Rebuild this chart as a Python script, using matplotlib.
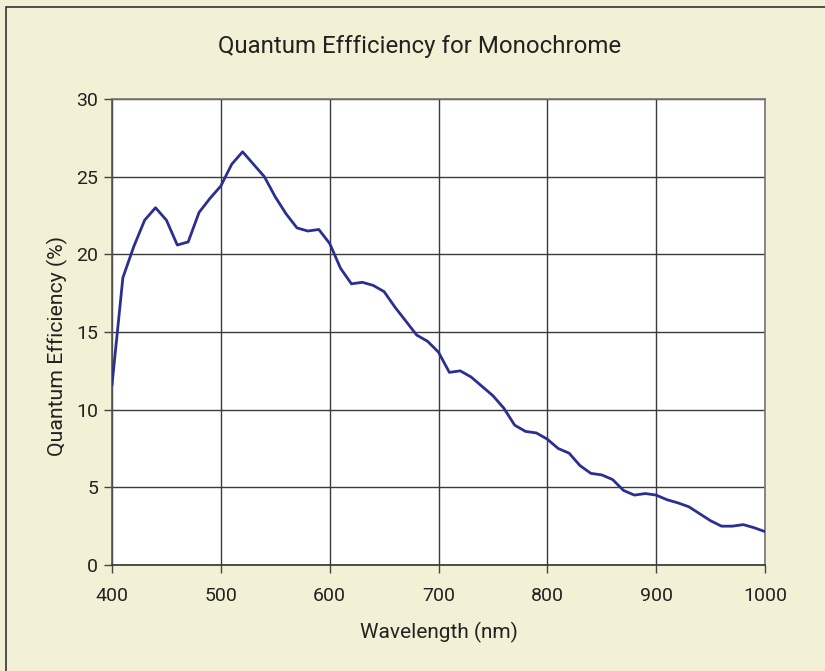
import matplotlib.pyplot as plt
from matplotlib.patches import Rectangle

# wavelength (nm) and quantum efficiency (%)
wavelength = list(range(400, 1001, 10))
qe = [11.6, 18.5, 20.5, 22.2, 23.0, 22.2, 20.6, 20.8, 22.7, 23.6,
      24.4, 25.8, 26.6, 25.8, 25.0, 23.7, 22.6, 21.7, 21.5, 21.6,
      20.7, 19.1, 18.1, 18.2, 18.0, 17.6, 16.6, 15.7, 14.8, 14.4,
      13.7, 12.4, 12.5, 12.1, 11.5, 10.9, 10.1, 9.0, 8.6, 8.5,
      8.1, 7.5, 7.2, 6.4, 5.9, 5.8, 5.5, 4.8, 4.5, 4.6,
      4.5, 4.2, 4.0, 3.75, 3.3, 2.85, 2.5, 2.5, 2.6, 2.4,
      2.15]
xticks = [400, 500, 600, 700, 800, 900, 1000]
yticks = [0, 5, 10, 15, 20, 25, 30]

plt.rcParams['font.family'] = ['Roboto', 'DejaVu Sans']
bg = '#F3F1D5'
txt = '#222222'

fig = plt.figure(figsize=(8.25, 6.71), dpi=100, facecolor=bg)
ax = fig.add_axes([112/825, 1-565/671, 653/825, 466/671])
ax.set_facecolor('white')

##外框
fig.patches.append(Rectangle((6/825, -0.1), 1.2, 1-7/671+0.1, transform=fig.transFigure,
                             fill=False, edgecolor='#333333', linewidth=1.2))

ax.plot(wavelength, qe, color='#2B2F8F', linewidth=2.0, zorder=3)

ax.set_xlim(400, 1000)
ax.set_ylim(0, 30)
ax.set_xticks(xticks)
ax.set_yticks(yticks)
ax.grid(True, color='#3a3a3a', linewidth=1.0)
ax.set_axisbelow(True)
for s in ax.spines.values():
    s.set_color('#777777')
    s.set_linewidth(1.2)
ax.spines['bottom'].set_color('#333333')
ax.spines['left'].set_color('#555555')
ax.tick_params(axis='both', direction='out', length=6, width=1, color='#444444',
               labelsize=14, labelcolor=txt)
ax.tick_params(axis='x', pad=10)
ax.tick_params(axis='y', pad=4)

ax.set_xlabel('Wavelength (nm)', fontsize=15, color=txt, labelpad=12)
ax.set_ylabel('Quantum Efficiency (%)', fontsize=15.3, color=txt)
ax.yaxis.set_label_coords(-0.068, 0.47)
fig.text(420/825, 1-46/671, 'Quantum Effficiency for Monochrome', ha='center', va='center',
         fontsize=17.3, color=txt)

fig.savefig('out.png', dpi=100, facecolor=bg)
